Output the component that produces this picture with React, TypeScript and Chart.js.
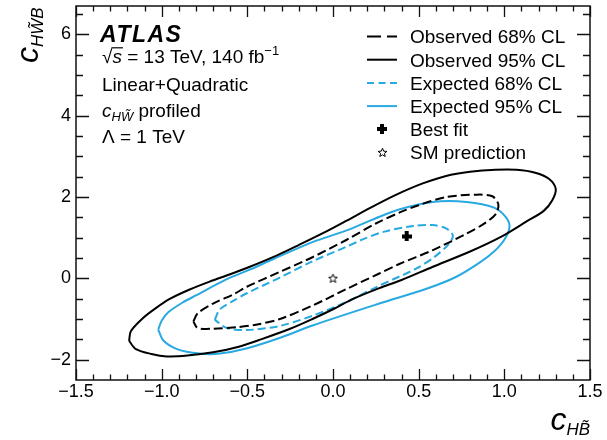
import React, { useEffect, useRef } from 'react';
import { Chart, registerables } from 'chart.js';

Chart.register(...registerables);

const FONT = '"Liberation Sans", Arial, Helvetica, sans-serif';
const BLACK = '#000000';
const BLUE = '#28a9e1';

// axis ranges and ticks
const xRange = [-1.5, 1.5];
const yRange = [-2.5, 6.7];
const xTickValues = [-1.5, -1.0, -0.5, 0.0, 0.5, 1.0, 1.5];
const yTickValues = [-2, 0, 2, 4, 6];
const xMinorStep = 0.1;
const yMinorStep = 0.5;

// series labels
const seriesLabels = [
  'Observed 68% CL',
  'Observed 95% CL',
  'Expected 68% CL',
  'Expected 95% CL',
  'Best fit',
  'SM prediction',
];

// contour points [cHB~, cHW~B]
const observed68: number[][] = [
  [-0.815, -1.06], [-0.79, -0.86], [-0.70, -0.62], [-0.58, -0.39], [-0.50, -0.20],
  [-0.31, 0.16], [-0.12, 0.52], [0.08, 0.95], [0.25, 1.35], [0.40, 1.64], [0.50, 1.80],
  [0.66, 2.00], [0.84, 2.06], [0.93, 2.02], [0.965, 1.82], [0.95, 1.58], [0.88, 1.34],
  [0.77, 1.08], [0.58, 0.69], [0.39, 0.36], [0.27, 0.12], [0.08, -0.26], [-0.115, -0.66],
  [-0.31, -1.00], [-0.45, -1.14], [-0.56, -1.20], [-0.70, -1.24], [-0.79, -1.22], [-0.815, -1.06],
];

const observed95: number[][] = [
  [-1.19, -1.54], [-1.18, -1.30], [-1.11, -0.98], [-1.03, -0.72], [-0.95, -0.50],
  [-0.84, -0.28], [-0.72, -0.08], [-0.60, 0.10], [-0.50, 0.26], [-0.33, 0.56],
  [-0.20, 0.82], [-0.05, 1.13], [0.08, 1.42], [0.22, 1.74], [0.37, 2.06], [0.52, 2.33],
  [0.66, 2.52], [0.80, 2.62], [0.95, 2.67], [1.07, 2.67], [1.18, 2.60], [1.26, 2.45],
  [1.30, 2.20], [1.28, 1.92], [1.23, 1.66], [1.13, 1.40], [0.98, 1.02], [0.80, 0.66],
  [0.58, 0.28], [0.40, -0.04], [0.27, -0.24], [0.12, -0.50], [0.00, -0.76], [-0.12, -1.00],
  [-0.25, -1.24], [-0.42, -1.50], [-0.55, -1.68], [-0.70, -1.82], [-0.85, -1.90],
  [-0.97, -1.92], [-1.06, -1.86], [-1.15, -1.74], [-1.19, -1.54],
];

const expected68: number[][] = [
  [-0.69, -1.02], [-0.66, -0.76], [-0.58, -0.55], [-0.50, -0.36], [-0.31, 0.02],
  [-0.12, 0.42], [0.08, 0.78], [0.18, 0.97], [0.30, 1.15], [0.47, 1.29], [0.58, 1.31],
  [0.66, 1.23], [0.70, 1.05], [0.67, 0.82], [0.59, 0.52], [0.49, 0.25], [0.39, 0.05],
  [0.25, -0.22], [0.08, -0.58], [-0.12, -0.92], [-0.31, -1.17], [-0.50, -1.27],
  [-0.62, -1.22], [-0.69, -1.02],
];

const expected95: number[][] = [
  [-1.02, -1.26], [-1.00, -1.04], [-0.96, -0.83], [-0.88, -0.60], [-0.80, -0.42],
  [-0.62, -0.02], [-0.50, 0.19], [-0.35, 0.47], [-0.12, 0.89], [0.08, 1.18], [0.25, 1.48],
  [0.39, 1.70], [0.58, 1.88], [0.78, 1.88], [0.94, 1.74], [1.01, 1.50], [1.03, 1.26],
  [1.00, 0.95], [0.94, 0.66], [0.86, 0.40], [0.72, 0.04], [0.55, -0.25], [0.27, -0.62],
  [-0.12, -1.16], [-0.30, -1.45], [-0.50, -1.72], [-0.66, -1.85], [-0.78, -1.85],
  [-0.91, -1.74], [-0.99, -1.53], [-1.02, -1.26],
];

const bestFit = [0.43, 1.03];
const smPrediction = [0, 0];

const toPts = (arr: number[][]) => arr.map(([x, y]) => ({ x, y }));
const fmt = (v: number, d: number) => v.toFixed(d).replace('-', '\u2212');

function makeStar(): HTMLCanvasElement {
  const c = document.createElement('canvas');
  c.width = 11; c.height = 11;
  const ctx = c.getContext('2d')!;
  const cx = 5.5, cy = 5.8, R = 4.6, r = 2.0;
  ctx.beginPath();
  for (let i = 0; i < 10; i++) {
    const a = -Math.PI / 2 + (i * Math.PI) / 5;
    const rad = i % 2 ? r : R;
    ctx.lineTo(cx + rad * Math.cos(a), cy + rad * Math.sin(a));
  }
  ctx.closePath();
  ctx.lineWidth = 1;
  ctx.strokeStyle = BLACK;
  ctx.stroke();
  return c;
}

function makePlus(): HTMLCanvasElement {
  const c = document.createElement('canvas');
  c.width = 10; c.height = 10;
  const ctx = c.getContext('2d')!;
  ctx.fillStyle = BLACK;
  ctx.fillRect(3, 0, 4, 10);
  ctx.fillRect(0, 3, 10, 4);
  return c;
}

type Run = { t: string; size: number; style?: string; weight?: string; dy?: number; overline?: boolean };

function setFont(ctx: CanvasRenderingContext2D, r: Run) {
  ctx.font = `${r.style || 'normal'} ${r.weight || 'normal'} ${r.size}px ${FONT}`;
}

function measureRuns(ctx: CanvasRenderingContext2D, runs: Run[]) {
  let w = 0;
  for (const r of runs) { setFont(ctx, r); w += ctx.measureText(r.t).width; }
  return w;
}

function drawRuns(ctx: CanvasRenderingContext2D, x: number, y: number, runs: Run[]) {
  let cx = x;
  for (const r of runs) {
    setFont(ctx, r);
    ctx.fillText(r.t, cx, y + (r.dy || 0));
    const w = ctx.measureText(r.t).width;
    if (r.overline) {
      ctx.beginPath();
      ctx.lineWidth = 1.2;
      ctx.strokeStyle = BLACK;
      const oy = y + (r.dy || 0) - r.size * 0.8;
      ctx.moveTo(cx - 1, oy);
      ctx.lineTo(cx + w + 1, oy);
      ctx.stroke();
    }
    cx += w;
  }
  return cx - x;
}

const decorPlugin = {
  id: 'atlasDecor',
  afterDatasetsDraw(chart: any) {
    const { ctx, chartArea: a, scales } = chart;
    const xs = scales.x, ys = scales.y;
    ctx.save();
    ctx.strokeStyle = '#111';
    ctx.lineWidth = 1.3;
    // ticks on all four sides, pointing inward
    const xMajorLen = 11, xMinorLen = 5.5, yMajorLen = 13, yMinorLen = 7;
    const nX = Math.round((xRange[1] - xRange[0]) / xMinorStep);
    ctx.beginPath();
    for (let i = 0; i <= nX; i++) {
      const v = xRange[0] + i * xMinorStep;
      const major = xTickValues.some((t) => Math.abs(t - v) < 1e-6);
      const len = major ? xMajorLen : xMinorLen;
      const px = Math.round(xs.getPixelForValue(v)) + 0.5;
      ctx.moveTo(px, a.bottom); ctx.lineTo(px, a.bottom - len);
      ctx.moveTo(px, a.top); ctx.lineTo(px, a.top + len);
    }
    const yStart = Math.ceil(yRange[0] / yMinorStep) * yMinorStep;
    for (let v = yStart; v <= yRange[1] + 1e-9; v += yMinorStep) {
      const major = yTickValues.some((t) => Math.abs(t - v) < 1e-6);
      const len = major ? yMajorLen : yMinorLen;
      const py = Math.round(ys.getPixelForValue(v)) + 0.5;
      if (py <= a.top + 1 || py >= a.bottom - 1) continue;
      ctx.moveTo(a.left, py); ctx.lineTo(a.left + len, py);
      ctx.moveTo(a.right, py); ctx.lineTo(a.right - len, py);
    }
    ctx.stroke();
    ctx.lineWidth = 1.5;
    ctx.strokeRect(a.left, a.top, a.right - a.left, a.bottom - a.top);
    ctx.restore();
  },
  afterDraw(chart: any) {
    const { ctx } = chart;
    ctx.save();
    ctx.fillStyle = BLACK;
    ctx.textBaseline = 'alphabetic';
    ctx.textAlign = 'left';

    // ATLAS label block
    ctx.save();
    (ctx as any).letterSpacing = '1.5px';
    drawRuns(ctx, 100, 42, [{ t: 'ATLAS', size: 23, style: 'italic', weight: 'bold' }]);
    ctx.restore();
    drawRuns(ctx, 102, 63, [
      { t: '\u221A', size: 19 },
      { t: 's', size: 19, style: 'italic', overline: true },
      { t: ' = 13 TeV, 140 fb', size: 19 },
      { t: '\u22121', size: 13, dy: -8 },
    ]);
    drawRuns(ctx, 102, 91, [{ t: 'Linear+Quadratic', size: 19 }]);
    drawRuns(ctx, 102, 117, [
      { t: 'c', size: 19, style: 'italic' },
      { t: 'HW\u0303', size: 13, style: 'italic', dy: 4 },
      { t: ' profiled', size: 19 },
    ]);
    drawRuns(ctx, 102, 143, [{ t: '\u039B = 1 TeV', size: 19 }]);

    // legend
    const ds = chart.data.datasets;
    const rowY0 = 36.5, rowDy = 23.2;
    const lx0 = 367, lx1 = 397, tx = 410;
    const legendDash: Record<number, number[]> = { 0: [14, 6], 2: [7, 4.5] };
    ds.forEach((d: any, i: number) => {
      const y = rowY0 + i * rowDy;
      if (d.showLine) {
        ctx.save();
        ctx.beginPath();
        ctx.strokeStyle = d.borderColor;
        ctx.lineWidth = d.borderWidth;
        ctx.setLineDash(legendDash[i] || []);
        ctx.moveTo(lx0, y); ctx.lineTo(lx1, y);
        ctx.stroke();
        ctx.restore();
      } else if (d.pointStyle) {
        const img = d.pointStyle as HTMLCanvasElement;
        ctx.drawImage(img, Math.round((lx0 + lx1) / 2 - img.width / 2), Math.round(y - img.height / 2));
      }
      drawRuns(ctx, tx, y + 6.8, [{ t: d.label, size: 19 }]);
    });

    // y-axis title (rotated)
    ctx.save();
    ctx.translate(38, 63);
    ctx.rotate(-Math.PI / 2);
    drawRuns(ctx, 0, 0, [
      { t: 'c', size: 32, style: 'italic' },
      { t: 'HW\u0303B', size: 17, style: 'italic', dy: 5 },
    ]);
    ctx.restore();

    // x-axis title
    const xt: Run[] = [
      { t: 'c', size: 32, style: 'italic' },
      { t: 'HB\u0303', size: 17, style: 'italic', dy: 5 },
    ];
    const w = measureRuns(ctx, xt);
    drawRuns(ctx, 590 - w, 430, xt);
    ctx.restore();
  },
};

export default function App() {
  const ref = useRef<HTMLCanvasElement>(null);
  useEffect(() => {
    document.body.style.margin = '0';
    const canvas = ref.current!;
    const star = makeStar();
    const plus = makePlus();
    const lineDs = (label: string, pts: number[][], color: string, dash: number[]) => ({
      label,
      data: toPts(pts),
      showLine: true,
      borderColor: color,
      backgroundColor: color,
      borderWidth: 2,
      borderDash: dash,
      pointRadius: 0,
      tension: 0.3,
      fill: false,
    });
    const chart = new Chart(canvas, {
      type: 'scatter',
      data: {
        datasets: [
          lineDs(seriesLabels[0], observed68, BLACK, [9, 4]),
          lineDs(seriesLabels[1], observed95, BLACK, []),
          lineDs(seriesLabels[2], expected68, BLUE, [8, 4]),
          lineDs(seriesLabels[3], expected95, BLUE, []),
          {
            label: seriesLabels[4],
            data: [{ x: bestFit[0], y: bestFit[1] }],
            showLine: false,
            pointStyle: plus,
            pointRadius: 5,
          } as any,
          {
            label: seriesLabels[5],
            data: [{ x: smPrediction[0], y: smPrediction[1] }],
            showLine: false,
            pointStyle: star,
            pointRadius: 5,
          } as any,
        ],
      },
      options: {
        responsive: false,
        animation: false,
        events: [],
        layout: { padding: { left: 0, right: 17, top: 5, bottom: 0 } },
        plugins: { legend: { display: false }, tooltip: { enabled: false } },
        scales: {
          x: {
            type: 'linear',
            min: xRange[0],
            max: xRange[1],
            afterBuildTicks: (s: any) => { s.ticks = xTickValues.map((v) => ({ value: v })); },
            afterFit: (s: any) => { s.height = 60; s.paddingLeft = 0; s.paddingRight = 0; },
            grid: { display: false, drawTicks: false },
            border: { display: false },
            ticks: {
              color: BLACK,
              font: { family: FONT, size: 18 },
              padding: 1,
              maxRotation: 0,
              autoSkip: false,
              callback: (v: any) => fmt(Number(v), 1),
            },
          },
          y: {
            type: 'linear',
            min: yRange[0],
            max: yRange[1],
            afterBuildTicks: (s: any) => { s.ticks = yTickValues.map((v) => ({ value: v })); },
            afterFit: (s: any) => { s.width = 76; s.paddingTop = 0; s.paddingBottom = 0; },
            grid: { display: false, drawTicks: false },
            border: { display: false },
            ticks: {
              color: BLACK,
              font: { family: FONT, size: 18 },
              padding: 5,
              autoSkip: false,
              callback: (v: any) => fmt(Number(v), 0),
            },
          },
        },
      },
      plugins: [decorPlugin],
    } as any);
    return () => chart.destroy();
  }, []);
  return (
    <div style={{ width: 607, height: 440 }}>
      <canvas ref={ref} width={607} height={440} style={{ display: 'block', width: 607, height: 440 }} />
    </div>
  );
}
